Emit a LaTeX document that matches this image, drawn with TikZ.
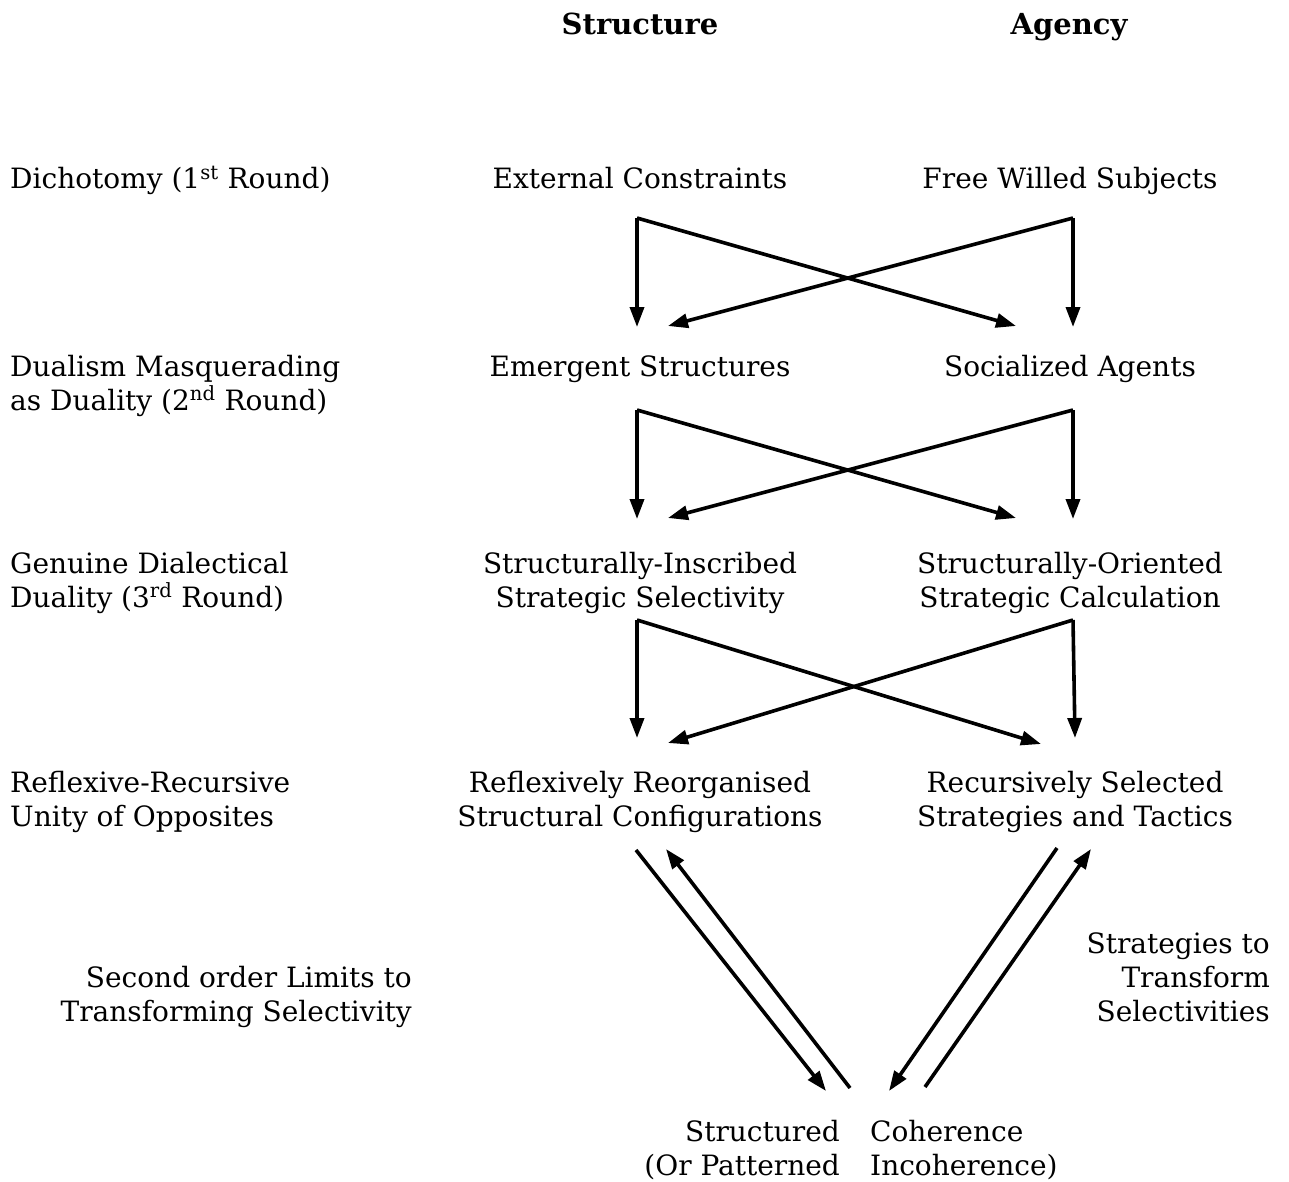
\documentclass[tikz,border=0pt]{standalone}
\usepackage{fontspec}
\setmainfont{DejaVu Serif}
\usetikzlibrary{arrows.meta}
\begin{document}
\begin{tikzpicture}[x=1pt,y=-1pt,
  lbl/.style={inner sep=0pt,font=\fontsize{28}{33}\selectfont},
  hdr/.style={inner sep=0pt,font=\fontsize{29}{34}\selectfont\bfseries},
  arr/.style={line width=3.6pt,-{Triangle[length=20pt,width=14pt]}}]
\useasboundingbox (0,0) rectangle (1289,1182);
% headers
\node[hdr,anchor=base] (hs) at (640,35) {Structure};
\node[hdr,anchor=base] (ha) at (1069,35) {Agency};
% left labels
\node[lbl,anchor=base west] (l1) at (10,189) {Dichotomy (1\textsuperscript{st} Round)};
\node[lbl,anchor=base west] (l2a) at (10,376) {Dualism Masquerading};
\node[lbl,anchor=base west] (l2b) at (10,410) {as Duality (2\textsuperscript{nd} Round)};
\node[lbl,anchor=base west] (l3a) at (10,573) {Genuine Dialectical};
\node[lbl,anchor=base west] (l3b) at (10,607) {Duality (3\textsuperscript{rd} Round)};
\node[lbl,anchor=base west] (l4a) at (10,792) {Reflexive-Recursive};
\node[lbl,anchor=base west] (l4b) at (10,826) {Unity of Opposites};
% structure column
\node[lbl,anchor=base] (s1) at (640,189) {External Constraints};
\node[lbl,anchor=base] (s2) at (640,376) {Emergent Structures};
\node[lbl,anchor=base] (s3a) at (640,573) {Structurally-Inscribed};
\node[lbl,anchor=base] (s3b) at (640,607) {Strategic Selectivity};
\node[lbl,anchor=base] (s4a) at (640,792) {Reflexively Reorganised};
\node[lbl,anchor=base] (s4b) at (640,826) {Structural Configurations};
% agency column
\node[lbl,anchor=base] (a1) at (1070,189) {Free Willed Subjects};
\node[lbl,anchor=base] (a2) at (1070,376) {Socialized Agents};
\node[lbl,anchor=base] (a3a) at (1070,573) {Structurally-Oriented};
\node[lbl,anchor=base] (a3b) at (1070,607) {Strategic Calculation};
\node[lbl,anchor=base] (a4a) at (1075,792) {Recursively Selected};
\node[lbl,anchor=base] (a4b) at (1075,826) {Strategies and Tactics};
% side labels
\node[lbl,anchor=base east] (sl1) at (412,987) {Second order Limits to};
\node[lbl,anchor=base east] (sl2) at (412,1021) {Transforming Selectivity};
\node[lbl,anchor=base east] (st1) at (1270,953) {Strategies to};
\node[lbl,anchor=base east] (st2) at (1270,987) {Transform};
\node[lbl,anchor=base east] (st3) at (1270,1021) {Selectivities};
% bottom
\node[lbl,anchor=base east] (b1) at (840,1141) {Structured};
\node[lbl,anchor=base east] (b2) at (840,1175) {(Or Patterned};
\node[lbl,anchor=base west] (c1) at (870,1141) {Coherence};
\node[lbl,anchor=base west] (c2) at (870,1175) {Incoherence)};
% coordinates
\coordinate (p1) at (637,218); \coordinate (q1) at (1073,218);
\coordinate (p1v) at (637,327); \coordinate (p1d) at (668,326);
\coordinate (q1v) at (1073,327); \coordinate (q1d) at (1016,326);
\coordinate (p2) at (637,410); \coordinate (q2) at (1073,410);
\coordinate (p2v) at (637,519); \coordinate (p2d) at (668,518);
\coordinate (q2v) at (1073,519); \coordinate (q2d) at (1016,518);
\coordinate (p3) at (637,620); \coordinate (q3) at (1073,620);
\coordinate (p3v) at (637,738); \coordinate (p3d) at (668,743);
\coordinate (q3v) at (1075,738); \coordinate (q3d) at (1041,744);
\coordinate (m1) at (636,850); \coordinate (m1e) at (826,1091);
\coordinate (m2) at (850,1088); \coordinate (m2e) at (666,849);
\coordinate (n1) at (1057,848); \coordinate (n1e) at (889,1091);
\coordinate (n2) at (925,1087); \coordinate (n2e) at (1091,849);
% arrows
\foreach \i in {1,2,3}{
  \draw[arr] (p\i) -- (p\i v);
  \draw[arr] (p\i) -- (q\i d);
  \draw[arr] (q\i) -- (q\i v);
  \draw[arr] (q\i) -- (p\i d);
}
\draw[arr] (m1) -- (m1e);
\draw[arr] (m2) -- (m2e);
\draw[arr] (n1) -- (n1e);
\draw[arr] (n2) -- (n2e);
\end{tikzpicture}
\end{document}
